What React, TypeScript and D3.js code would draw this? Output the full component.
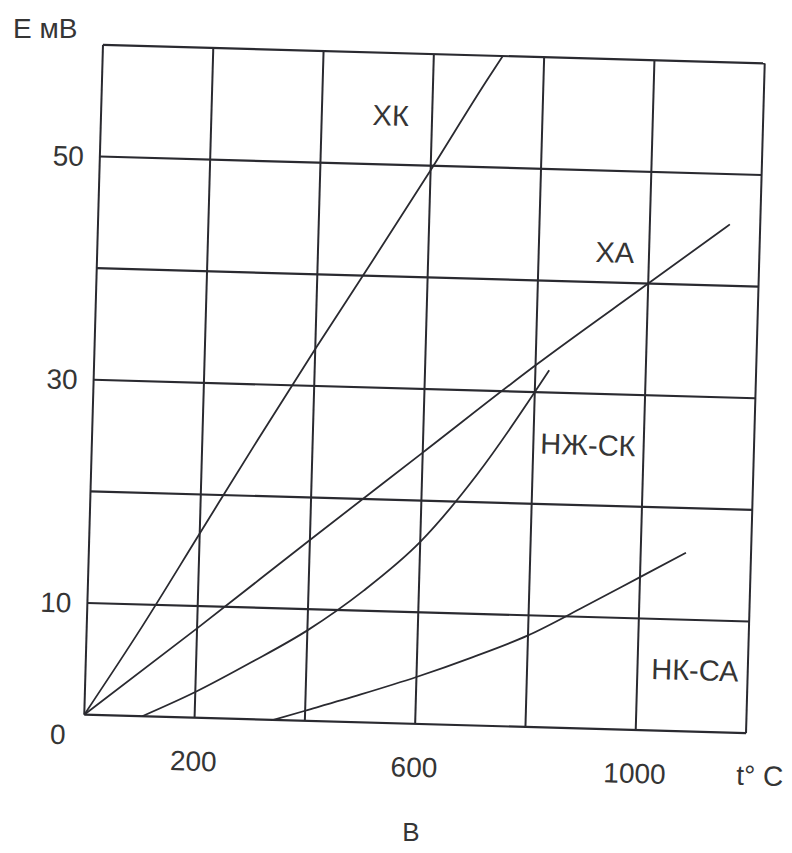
import React from "react";
import { select, scaleLinear, line, curveMonotoneX } from "d3";

// grid and tick labels
const gridTemps = [0, 200, 400, 600, 800, 1000, 1200];
const gridEmf = [0, 10, 20, 30, 40, 50, 60];
const tempLabels = [200, 600, 1000];
const emfLabels = [10, 30, 50];

// thermocouple curves, t in °C, E in mV
const xkTemp = [0, 100, 200, 300, 400, 500, 600, 700, 725];
const xkEmf = [0, 8, 16.5, 25, 33.3, 41.4, 49.6, 58, 60];

const xaTemp = [0, 200, 400, 600, 800, 1000, 1145];
const xaEmf = [0, 8, 16.2, 24.3, 32.4, 40, 45.5];

const nzhTemp = [105, 200, 300, 400, 500, 600, 700, 800, 825];
const nzhEmf = [0, 2.3, 5.1, 8.1, 11.8, 16.3, 22.5, 30, 32];

const nkTemp = [343, 400, 500, 600, 700, 800, 900, 1000, 1082];
const nkEmf = [0, 0.9, 2.5, 4.2, 6.1, 8.2, 10.9, 13.7, 16];

const curveNames = ["ХК", "ХА", "НЖ-СК", "НК-СА"];
const curveTemps = [xkTemp, xaTemp, nzhTemp, nkTemp];
const curveEmfs = [xkEmf, xaEmf, nzhEmf, nkEmf];
// where each name sits, in data units
const nameTemp = [525, 938, 899, 1104];
const nameEmf = [54.4, 42.7, 25.4, 5.5];

const FONT = "'Liberation Sans', Arial, sans-serif";
const INK = "#2a2a30";
const TEXT = "#353535";

export default function App() {
  const svgRef = React.useRef(null);

  React.useEffect(() => {
    const svg = select(svgRef.current);
    const x = scaleLinear().domain([0, 1200]).range([93.5, 755.5]);
    const y = scaleLinear().domain([0, 60]).range([724, 54]);

    // the scan is tilted a little, so the whole plot is turned
    const g = svg.select(".plot").attr("transform", "rotate(1.6 424.5 389)");

    g.selectAll(".vgrid")
      .data(gridTemps)
      .join("line")
      .attr("class", "vgrid")
      .attr("x1", d => x(d))
      .attr("x2", d => x(d))
      .attr("y1", y(0))
      .attr("y2", y(60))
      .attr("stroke", INK)
      .attr("stroke-width", 2);

    g.selectAll(".hgrid")
      .data(gridEmf)
      .join("line")
      .attr("class", "hgrid")
      .attr("x1", x(0))
      .attr("x2", x(1200))
      .attr("y1", d => y(d))
      .attr("y2", d => y(d))
      .attr("stroke", INK)
      .attr("stroke-width", 2.2);

    const curve = line()
      .x(d => x(d[0]))
      .y(d => y(d[1]))
      .curve(curveMonotoneX);

    g.selectAll(".curve")
      .data(curveTemps.map((ts, i) => ts.map((t, j) => [t, curveEmfs[i][j]])))
      .join("path")
      .attr("class", "curve")
      .attr("d", curve)
      .attr("fill", "none")
      .attr("stroke", INK)
      .attr("stroke-width", 1.8);

    g.selectAll(".cname")
      .data(curveNames)
      .join("text")
      .attr("class", "cname")
      .attr("x", (d, i) => x(nameTemp[i]))
      .attr("y", (d, i) => y(nameEmf[i]) + 10)
      .attr("text-anchor", "middle")
      .attr("font-family", FONT)
      .attr("font-size", 29)
      .attr("fill", TEXT)
      .text(d => d);

    g.selectAll(".xlab")
      .data(tempLabels)
      .join("text")
      .attr("class", "xlab")
      .attr("x", d => x(d))
      .attr("y", y(0) + 53)
      .attr("text-anchor", "middle")
      .attr("font-family", FONT)
      .attr("font-size", 28)
      .attr("fill", TEXT)
      .text(d => d);

    g.selectAll(".ylab")
      .data(emfLabels)
      .join("text")
      .attr("class", "ylab")
      .attr("x", x(0) - 16)
      .attr("y", d => y(d) + 10)
      .attr("text-anchor", "end")
      .attr("font-family", FONT)
      .attr("font-size", 28)
      .attr("fill", TEXT)
      .text(d => d);

    g.selectAll(".origin")
      .data([0])
      .join("text")
      .attr("class", "origin")
      .attr("x", x(0) - 26)
      .attr("y", y(0) + 30)
      .attr("text-anchor", "middle")
      .attr("font-family", FONT)
      .attr("font-size", 28)
      .attr("fill", TEXT)
      .text(d => d);

    g.selectAll(".tunit")
      .data(["t° C"])
      .join("text")
      .attr("class", "tunit")
      .attr("x", x(1200) + 15)
      .attr("y", y(0) + 52)
      .attr("text-anchor", "middle")
      .attr("font-family", FONT)
      .attr("font-size", 28)
      .attr("fill", TEXT)
      .text(d => d);
  }, []);

  return (
    <svg
      ref={svgRef}
      width={792}
      height={853}
      style={{ position: "absolute", left: 0, top: 0, background: "#fff" }}
    >
      <text x={13} y={38} fontFamily={FONT} fontSize={28} fill={TEXT}>
        Е мВ
      </text>
      <text x={411} y={841} textAnchor="middle" fontFamily={FONT} fontSize={26} fill={TEXT}>
        В
      </text>
      <g className="plot" />
    </svg>
  );
}
